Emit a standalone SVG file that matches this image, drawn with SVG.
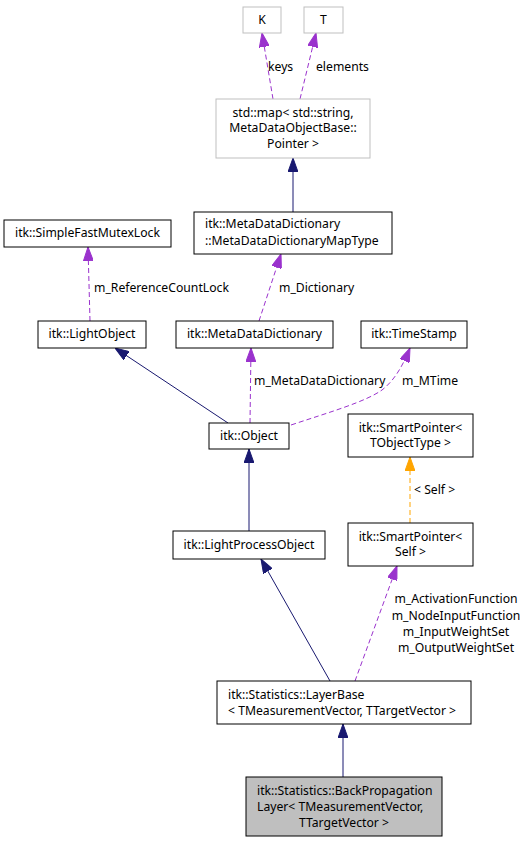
<svg xmlns="http://www.w3.org/2000/svg" width="528" height="843" viewBox="0 0 528 843">
<style>
text{font-family:"Noto Sans","DejaVu Sans",sans-serif;font-size:12.2px;fill:#000}
.m{text-anchor:middle}
.box{fill:#fff;stroke:#000;stroke-width:1}
.gbox{fill:#fff;stroke:#bfbfbf;stroke-width:1}
.sel{fill:#bfbfbf;stroke:#000;stroke-width:1}
.inh{fill:none;stroke:#191970;stroke-width:1}
.use{fill:none;stroke:#9a32cd;stroke-width:1;stroke-dasharray:5,3}
.tpl{fill:none;stroke:#ffa500;stroke-width:1;stroke-dasharray:5,3}
</style>
<defs>
<marker id="aN" viewBox="0 -5 14 10" refX="14" refY="0" markerWidth="14" markerHeight="10" markerUnits="userSpaceOnUse" orient="auto"><path d="M0,-5L14,0L0,5z" fill="#191970" stroke="#191970"/></marker>
<marker id="aP" viewBox="0 -5 14 10" refX="14" refY="0" markerWidth="14" markerHeight="10" markerUnits="userSpaceOnUse" orient="auto"><path d="M0,-5L14,0L0,5z" fill="#9a32cd" stroke="#9a32cd"/></marker>
<marker id="aO" viewBox="0 -5 14 10" refX="14" refY="0" markerWidth="14" markerHeight="10" markerUnits="userSpaceOnUse" orient="auto"><path d="M0,-5L14,0L0,5z" fill="#ffa500" stroke="#ffa500"/></marker>
</defs>
<g id="edges">
<path class="use" d="M273,99 L262,33" marker-end="url(#aP)"/>
<text x="268" y="71">keys</text>
<path class="use" d="M300,99 L316,33" marker-end="url(#aP)"/>
<text x="316" y="71">elements</text>
<path class="inh" d="M293,212 L293,158" marker-end="url(#aN)"/>
<path class="use" d="M259,321 L281,254" marker-end="url(#aP)"/>
<text x="279" y="292">m_Dictionary</text>
<path class="use" d="M90,321 L88,247" marker-end="url(#aP)"/>
<text x="94" y="292">m_ReferenceCountLock</text>
<path class="inh" d="M228,423 L115,348" marker-end="url(#aN)"/>
<path class="use" d="M250,423 L251,348" marker-end="url(#aP)"/>
<text x="254" y="385">m_MetaDataDictionary</text>
<path class="use" d="M291,425 C330,412 365,402 382,390 C395,380 403,365 410,348" marker-end="url(#aP)"/>
<text x="402" y="385">m_MTime</text>
<path class="inh" d="M249,531 L249,449" marker-end="url(#aN)"/>
<path class="tpl" d="M410,523 L410,457" marker-end="url(#aO)"/>
<text x="414" y="494">&lt; Self &gt;</text>
<path class="inh" d="M330,681 L261,559" marker-end="url(#aN)"/>
<path class="use" d="M355,681 L397,566" marker-end="url(#aP)"/>
<text class="m" x="456" y="603">m_ActivationFunction</text>
<text class="m" x="456" y="620">m_NodeInputFunction</text>
<text class="m" x="456" y="636">m_InputWeightSet</text>
<text class="m" x="456" y="652">m_OutputWeightSet</text>
<path class="inh" d="M343,777 L343,724" marker-end="url(#aN)"/>
</g>
<g id="node-K"><rect class="gbox" x="243" y="7" width="38" height="26"/><text class="m" x="262" y="24">K</text></g>
<g id="node-T"><rect class="gbox" x="304" y="7" width="39" height="26"/><text class="m" x="323.5" y="24">T</text></g>
<g id="node-map"><rect class="gbox" x="216" y="99" width="154" height="59"/>
<text class="m" x="293" y="117">std::map&lt; std::string,</text>
<text class="m" x="293" y="132">MetaDataObjectBase::</text>
<text class="m" x="293" y="148">Pointer &gt;</text></g>
<g id="node-maptype"><rect class="box" x="194" y="212" width="198" height="42"/>
<text x="205" y="228">itk::MetaDataDictionary</text>
<text x="205" y="245">::MetaDataDictionaryMapType</text></g>
<g id="node-mutex"><rect class="box" x="4" y="220" width="167" height="27"/><text class="m" x="87.5" y="237">itk::SimpleFastMutexLock</text></g>
<g id="node-lightobject"><rect class="box" x="38" y="321" width="108" height="27"/><text class="m" x="92" y="338">itk::LightObject</text></g>
<g id="node-mdd"><rect class="box" x="176" y="321" width="157" height="27"/><text class="m" x="254.5" y="338">itk::MetaDataDictionary</text></g>
<g id="node-timestamp"><rect class="box" x="361" y="321" width="106" height="27"/><text class="m" x="414" y="338">itk::TimeStamp</text></g>
<g id="node-object"><rect class="box" x="209" y="423" width="80" height="26"/><text class="m" x="249" y="440">itk::Object</text></g>
<g id="node-sp-t"><rect class="box" x="348" y="414" width="125" height="43"/>
<text class="m" x="410.5" y="432">itk::SmartPointer&lt;</text>
<text class="m" x="410.5" y="447">TObjectType &gt;</text></g>
<g id="node-lpo"><rect class="box" x="173" y="531" width="152" height="28"/><text class="m" x="249" y="549">itk::LightProcessObject</text></g>
<g id="node-sp-self"><rect class="box" x="348" y="523" width="125" height="43"/>
<text class="m" x="410.5" y="541">itk::SmartPointer&lt;</text>
<text class="m" x="410.5" y="556">Self &gt;</text></g>
<g id="node-layerbase"><rect class="box" x="217" y="681" width="254" height="43"/>
<text x="228" y="699">itk::Statistics::LayerBase</text>
<text x="228" y="715">&lt; TMeasurementVector, TTargetVector &gt;</text></g>
<g id="node-bp"><rect class="sel" x="246" y="777" width="196" height="59"/>
<text x="257" y="795">itk::Statistics::BackPropagation</text>
<text x="257" y="811">Layer&lt; TMeasurementVector,</text>
<text class="m" x="344" y="827">TTargetVector &gt;</text></g>
</svg>
